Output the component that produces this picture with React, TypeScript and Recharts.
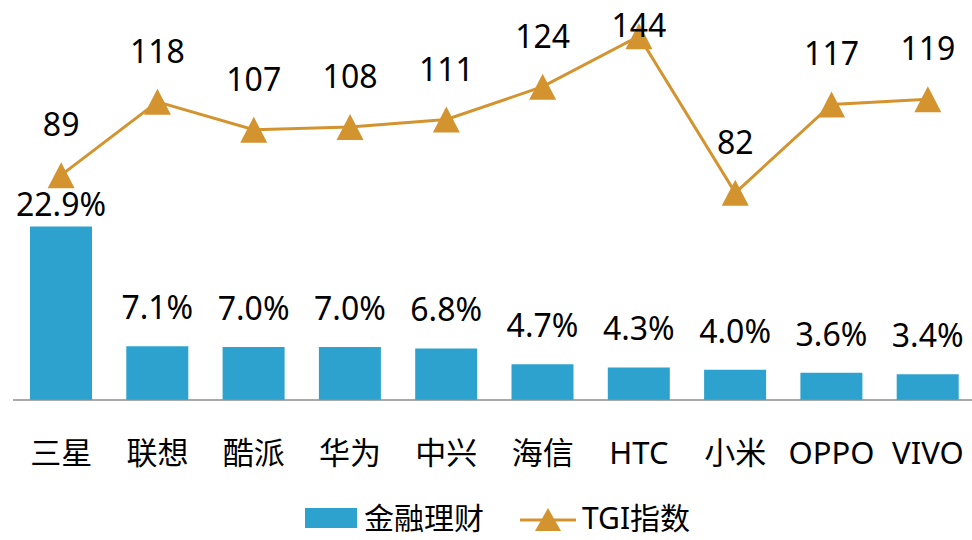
import { ComposedChart, Bar, Line, XAxis, YAxis, LabelList, Legend } from "recharts";

const BAR_BLUE = "#2EA2CE";
const TGI_GOLD = "#D39430";
const FONT = '"Noto Sans", "Noto Sans CJK SC", sans-serif';

const brands = ["三星", "联想", "酷派", "华为", "中兴", "海信", "HTC", "小米", "OPPO", "VIVO"];
const financeShare = [22.9, 7.1, 7.0, 7.0, 6.8, 4.7, 4.3, 4.0, 3.6, 3.4];
const tgiIndex = [89, 118, 107, 108, 111, 124, 144, 82, 117, 119];
const seriesNames = ["金融理财", "TGI指数"];

const data = brands.map((name, i) => ({
  name,
  finance: financeShare[i],
  tgi: tgiIndex[i],
}));

function Triangle({ cx, cy }: any) {
  if (cx == null || cy == null) return null;
  const w = 27;
  const h = 26;
  return (
    <polygon
      points={`${cx},${cy - h / 2} ${cx + w / 2},${cy + h / 2} ${cx - w / 2},${cy + h / 2}`}
      fill={TGI_GOLD}
    />
  );
}

function BarValue({ x, y, width, value, index }: any) {
  // first label was nudged down in the source so it clears the line marker
  const gap = index === 0 ? 10 : 27;
  return (
    <text x={x + width / 2} y={y - gap} textAnchor="middle" fontSize={32} fontFamily={FONT} fill="#000">
      {`${Number(value).toFixed(1)}%`}
    </text>
  );
}

function TgiValue({ x, y, value }: any) {
  const base = Math.max(y - 39, 37);
  return (
    <text x={x} y={base} textAnchor="middle" fontSize={32} fontFamily={FONT} fill="#000">
      {value}
    </text>
  );
}

function BrandTick({ x, y, payload }: any) {
  return (
    <text x={x} y={y + 56} textAnchor="middle" fontSize={31} fontFamily={FONT} fill="#000">
      {payload.value}
    </text>
  );
}

function LegendBox() {
  return (
    <div style={{ display: "flex", alignItems: "center", height: 34, lineHeight: "34px", fontFamily: FONT, fontSize: 30, color: "#000" }}>
      <svg width={52} height={20} style={{ marginRight: 7 }}>
        <rect width={52} height={20} fill={BAR_BLUE} />
      </svg>
      <span style={{ marginRight: 36 }}>{seriesNames[0]}</span>
      <svg width={56} height={28} style={{ marginRight: 6 }}>
        <line x1={0} y1={16} x2={56} y2={16} stroke={TGI_GOLD} strokeWidth={3} />
        <polygon points="28,4 41,27 15,27" fill={TGI_GOLD} />
      </svg>
      <span>{seriesNames[1]}</span>
    </div>
  );
}

export default function App() {
  return (
    <div style={{ position: "absolute", left: 0, top: 0, width: 972, height: 540, overflow: "hidden", background: "#fff" }}>
      <ComposedChart
        width={980}
        height={540}
        data={data}
        margin={{ top: 21, right: 4, left: 13, bottom: 46 }}
      >
        <XAxis
          dataKey="name"
          height={60}
          axisLine={{ stroke: "#8C8C8C", strokeWidth: 1.5 }}
          tickLine={false}
          tick={<BrandTick />}
          interval={0}
        />
        <YAxis yAxisId="left" hide domain={[0, 50]} />
        <YAxis yAxisId="right" hide orientation="right" domain={[0, 150]} />
        <Bar yAxisId="left" dataKey="finance" name={seriesNames[0]} fill={BAR_BLUE} barSize={62} isAnimationActive={false}>
          <LabelList dataKey="finance" content={<BarValue />} />
        </Bar>
        <Line
          yAxisId="right"
          dataKey="tgi"
          name={seriesNames[1]}
          type="linear"
          stroke={TGI_GOLD}
          strokeWidth={3}
          dot={<Triangle />}
          activeDot={false}
          isAnimationActive={false}
        >
          <LabelList dataKey="tgi" content={<TgiValue />} />
        </Line>
        <Legend
          content={<LegendBox />}
          wrapperStyle={{ position: "absolute", left: 305, top: 501, width: 440, height: 34 }}
        />
      </ComposedChart>
    </div>
  );
}
